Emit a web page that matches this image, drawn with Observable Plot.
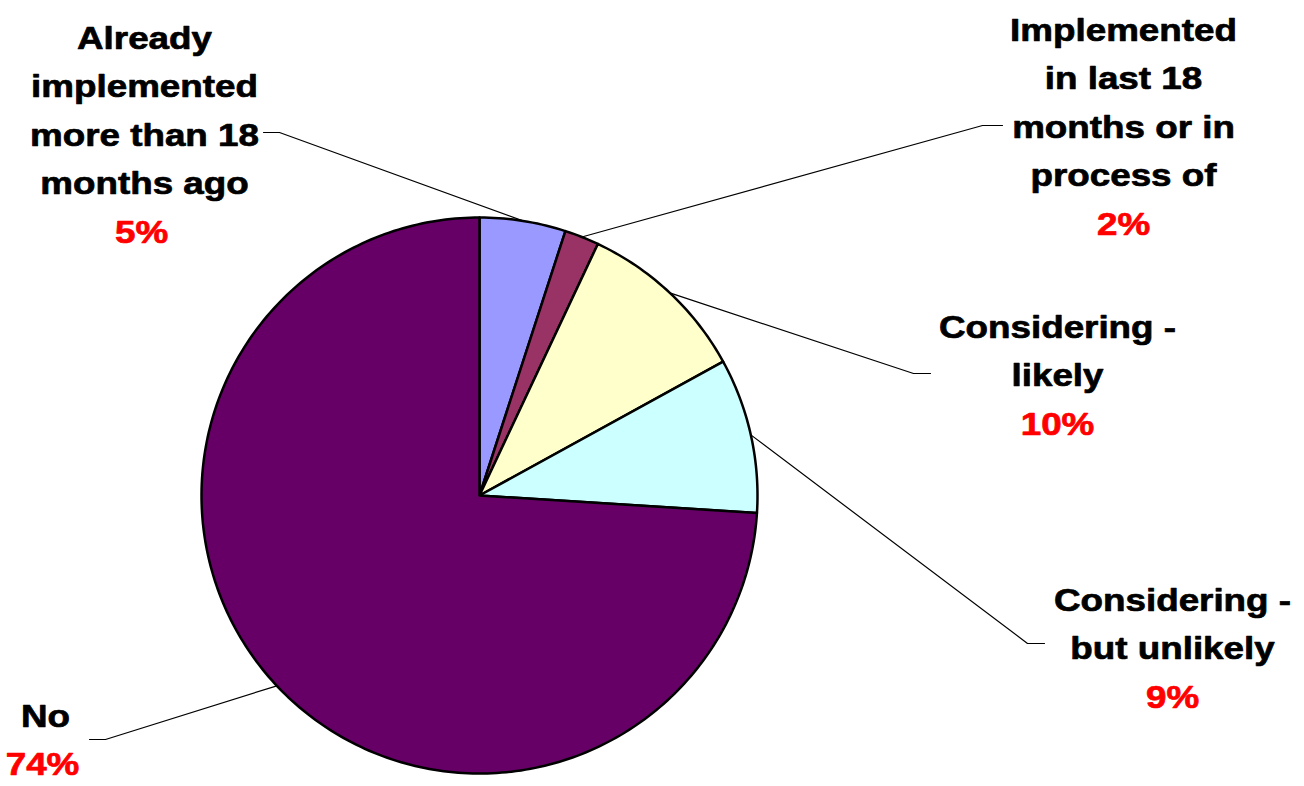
<!DOCTYPE html>
<html>
<head>
<meta charset="utf-8">
<script src="https://cdn.jsdelivr.net/npm/d3@7"></script>
<script src="https://cdn.jsdelivr.net/npm/@observablehq/plot@0.6"></script>
<style>
  html, body { margin: 0; padding: 0; background: #fff; }
  #chart svg { display: block; }
</style>
</head>
<body>
<div id="chart"></div>
<script>
// ---- Data ----
const categories = [
  "Already implemented more than 18 months ago",
  "Implemented in last 18 months or in process of",
  "Considering - likely",
  "Considering - but unlikely",
  "No"
];
const values = [5, 2, 10, 9, 74];
const sliceColors = ["#9999FF", "#993366", "#FFFFCC", "#CCFFFF", "#660066"];
const labelLines = [
  ["Already", "implemented", "more than 18", "months ago"],
  ["Implemented", "in last 18", "months or in", "process of"],
  ["Considering -", "likely"],
  ["Considering -", "but unlikely"],
  ["No"]
];
const pctLabels = ["5%", "2%", "10%", "9%", "74%"];

// ---- Layout (pixels) ----
const W = 1304, H = 786;
const cx = 479, cy = 495, R = 278;
const labelAnchors = [ // center x, first line y, pct x
  {x: 144, y: 38, px: 141},
  {x: 1123, y: 30, px: 1123},
  {x: 1057, y: 327, px: 1057},
  {x: 1172, y: 600, px: 1172},
  {x: 45, y: 716, px: 42}
];
const lineGap = 48.5;
const elbows = [ // [elbow point, end point] of leader lines
  [[279, 132], [263, 132]],
  [[982, 125], [1002, 125]],
  [[913, 373], [930, 373]],
  [[1027, 643], [1044, 643]],
  [[105, 739], [89, 739]]
];

// ---- Geometry from data ----
const arcs = d3.pie().sort(null).startAngle(0).endAngle(2 * Math.PI)(values);
const pt = (a, r) => ({x: cx + r * Math.sin(a), y: cy - r * Math.cos(a)});

const sliceMarks = arcs.map((arc, i) => {
  const n = Math.max(2, Math.ceil((arc.endAngle - arc.startAngle) / (Math.PI / 180)));
  const pts = [pt(0, 0)];
  for (let k = 0; k <= n; k++) {
    const a = arc.startAngle + (arc.endAngle - arc.startAngle) * k / n;
    pts.push(pt(a, R));
  }
  pts.push(pt(0, 0));
  return Plot.line(pts, {
    x: "x", y: "y", fill: sliceColors[i], stroke: "#000",
    strokeWidth: 2.5, strokeLinejoin: "round", curve: "linear"
  });
});

const leaders = [];
arcs.forEach((arc, i) => {
  const mid = (arc.startAngle + arc.endAngle) / 2;
  const p0 = pt(mid, R);
  const [e, f] = elbows[i];
  leaders.push({id: i, x: p0.x, y: p0.y});
  leaders.push({id: i, x: e[0], y: e[1]});
  leaders.push({id: i, x: f[0], y: f[1]});
});

const textRows = [];
const pctRows = [];
labelLines.forEach((lines, i) => {
  const a = labelAnchors[i];
  lines.forEach((t, k) => textRows.push({x: a.x, y: a.y + k * lineGap, text: t}));
  pctRows.push({x: a.px, y: a.y + lines.length * lineGap, text: pctLabels[i], cat: categories[i]});
});

const font = {fontFamily: "'Liberation Sans', Arial, sans-serif", fontWeight: "bold", fontSize: 32, strokeWidth: 0.7};

const chart = Plot.plot({
  width: W, height: H,
  margin: 0,
  x: {domain: [0, W], range: [0, W], axis: null},
  y: {domain: [0, H], range: [0, H], axis: null},
  marks: [
    Plot.line(leaders, {x: "x", y: "y", z: "id", stroke: "#000", strokeWidth: 1.2}),
    ...sliceMarks,
    Plot.text(textRows, {x: "x", y: "y", text: "text", fill: "#000", stroke: "#000", textAnchor: "middle", ...font}),
    Plot.text(pctRows, {x: "x", y: "y", text: "text", fill: "#FF0000", stroke: "#FF0000", textAnchor: "middle", ...font})
  ]
});

// Reference text is horizontally stretched Arial Bold
chart.querySelectorAll("text").forEach(t => {
  const tr = t.getAttribute("transform") || "";
  t.setAttribute("transform", tr + " scale(1.15,1)");
});

document.getElementById("chart").appendChild(chart);
</script>
</body>
</html>
